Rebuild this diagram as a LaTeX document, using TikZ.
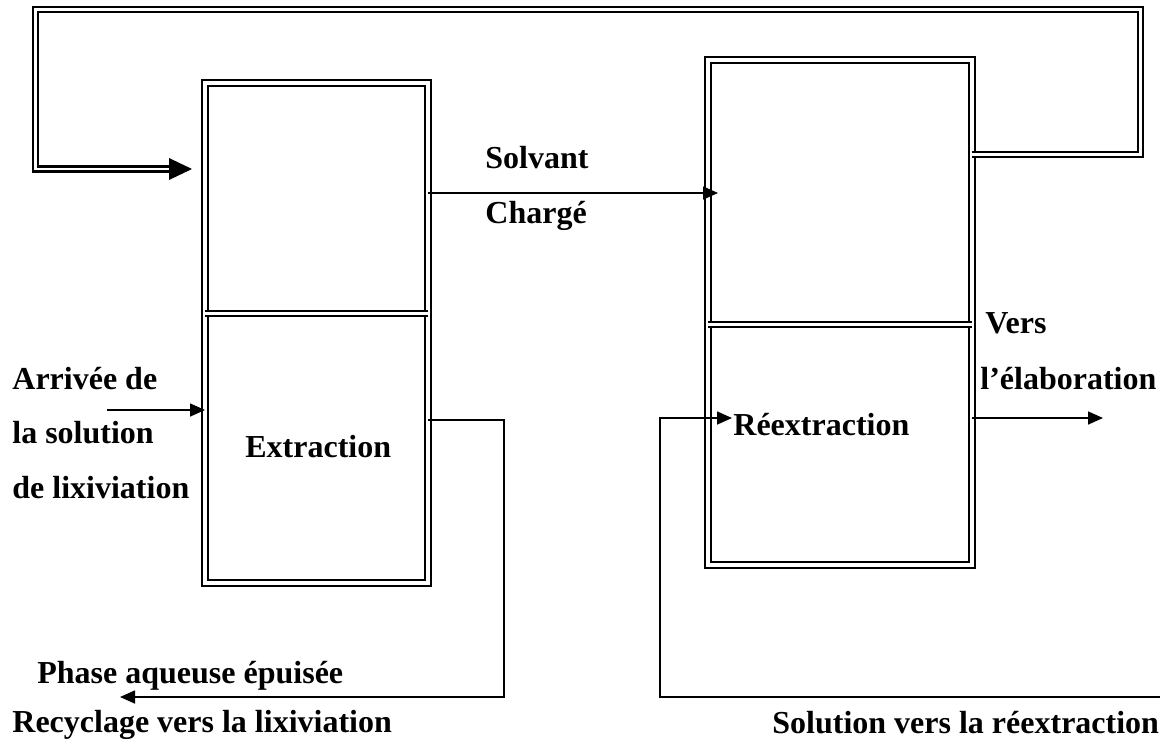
\documentclass[tikz,border=0pt]{standalone}
\usepackage{fontspec}
\setmainfont{Liberation Serif}
\usetikzlibrary{arrows.meta}
\tikzset{
  bac/.style={draw, double, line width=1.2pt, double distance=1.8pt, inner sep=0pt, outer sep=0pt},
  sep/.style={double, line width=1.1pt, double distance=1.4pt},
  tube/.style={double, line width=1.1pt, double distance=1.4pt},
  flux/.style={line width=0.8pt, -{Triangle[length=7.5pt,width=6.5pt]}},
  txt/.style={font=\bfseries\fontsize{16}{19}\selectfont, inner sep=0pt, anchor=base west}
}
\begin{document}
\begin{tikzpicture}[x=0.5pt,y=-0.5pt]
\useasboundingbox (0,0) rectangle (1167,745);
% bacs
\node[bac, minimum width=111.5pt, minimum height=250pt] (extr) at (316.5,333) {};
\node[bac, minimum width=132pt, minimum height=252.5pt] (reext) at (840,312.5) {};
\draw[sep] (extr.west |- 0,313.5) -- (extr.east |- 0,313.5);
\draw[sep] (reext.west |- 0,324.5) -- (reext.east |- 0,324.5);

% retour du solvant
\coordinate (coin1) at (1140.5,154.5);
\coordinate (coin2) at (1140.5,9.5);
\coordinate (coin3) at (35.5,9.5);
\coordinate (coin4) at (35.5,169);
\coordinate (bout) at (192,169);
\draw[tube] (reext.east |- coin1) -- (coin1) -- (coin2) -- (coin3) -- (coin4) -- (170,169);
\fill (bout) -- +(-23,-11) -- +(-23,11) -- cycle;

% textes
\node[txt] (solv) at (485,168) {Solvant};
\node[txt] (charge) at (485,223) {Chargé};
\node[txt] (ext) at (245,457) {Extraction};
\node[txt] (rex) at (733,435) {Réextraction};
\node[txt] (arr1) at (12,389) {Arrivée de};
\node[txt] (arr2) at (12,443) {la solution};
\node[txt] (arr3) at (12,498) {de lixiviation};
\node[txt] (vers1) at (985,333) {Vers};
\node[txt] (vers2) at (980,389) {l’élaboration};
\node[txt] (phase) at (37,683) {Phase aqueuse épuisée};
\node[txt] (recyc) at (12,732) {Recyclage vers la lixiviation};
\node[txt] (sol) at (772,733) {Solution vers la réextraction};

% flux
\coordinate (entree) at (107,410);
\coordinate (sortie) at (120,697);
\coordinate (elab) at (1103,418);
\coordinate (arrivee) at (1160,697);
\draw[flux] (entree) -- (extr.west |- entree);
\draw[flux, shorten >=-5pt] (extr.east |- 0,193) -- (reext.west |- 0,193);
\draw[flux] (extr.east |- 0,420) -- (504,420) -- (504,697) -- (sortie);
\draw[flux, shorten >=-12pt] (arrivee) -- (660,697) -- (660,418) -- (reext.west |- 0,418);
\draw[flux] (reext.east |- elab) -- (elab);
\end{tikzpicture}
\end{document}
